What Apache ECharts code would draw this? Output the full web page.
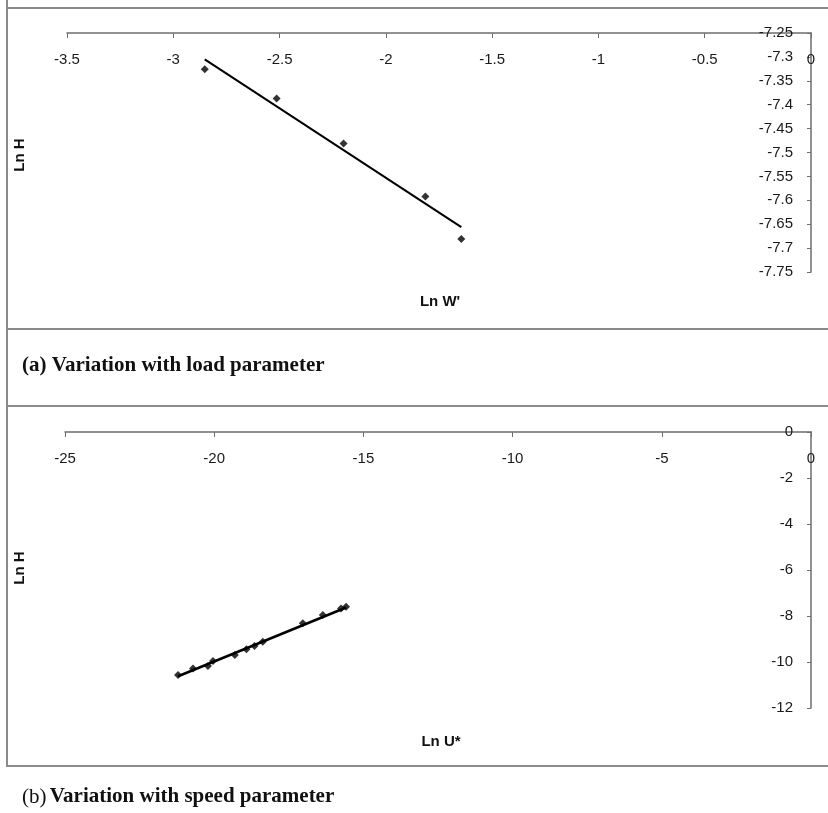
<!DOCTYPE html>
<html>
<head>
<meta charset="utf-8">
<script src="https://cdn.jsdelivr.net/npm/echarts@6/dist/echarts.min.js"></script>
<style>
  html, body { margin: 0; padding: 0; background: #fff; }
  #main { width: 828px; height: 813px; }
</style>
</head>
<body>
<div id="main"></div>
<script>
// (a) load parameter
var loadX = [-2.852, -2.514, -2.199, -1.814, -1.645];
var loadY = [-7.326, -7.387, -7.481, -7.592, -7.681];
var loadTrendX = [-2.852, -1.645];
var loadTrendY = [-7.305, -7.656];

// (b) speed parameter
var speedX = [-21.21, -20.71, -20.21, -20.04, -19.31, -18.92, -18.65, -18.37, -17.03, -16.36, -15.75, -15.58];
var speedY = [-10.57, -10.28, -10.17, -9.96, -9.70, -9.45, -9.30, -9.12, -8.32, -7.96, -7.67, -7.60];
var speedTrendX = [-21.21, -15.58];
var speedTrendY = [-10.62, -7.63];

function pairs(xs, ys) {
  return xs.map(function (x, i) { return [x, ys[i]]; });
}

var chart = echarts.init(document.getElementById('main'));

var axisColor = '#6e6e6e';
var labelStyle = { color: '#1a1a1a', fontFamily: 'Liberation Sans, Arial', fontSize: 15 };

function xAxisOf(grid, min, max, interval) {
  return {
    type: 'value',
    gridIndex: grid,
    position: 'top',
    min: min, max: max, interval: interval,
    axisLine: { show: true, onZero: false, lineStyle: { color: axisColor, width: 1.5 } },
    axisTick: { show: true, inside: true, length: 5, lineStyle: { color: axisColor } },
    axisLabel: Object.assign({ inside: true, margin: 19 }, labelStyle),
    splitLine: { show: false }
  };
}
function yAxisOf(grid, min, max, interval) {
  return {
    type: 'value',
    gridIndex: grid,
    position: 'right',
    min: min, max: max, interval: interval,
    axisLine: { show: true, onZero: false, lineStyle: { color: axisColor, width: 1.5 } },
    axisTick: { show: true, inside: true, length: 4, lineStyle: { color: axisColor } },
    axisLabel: Object.assign({ inside: true, margin: 18 }, labelStyle),
    splitLine: { show: false }
  };
}

var frame = { stroke: '#8a8a8a', lineWidth: 2 };
var nameFont = 'bold 15px "Liberation Sans", Arial';
var capFont = 'bold 21px "Liberation Serif", "Times New Roman"';

var option = {
  animation: false,
  backgroundColor: '#fff',
  grid: [
    { left: 67, right: 17, top: 33, height: 239 },
    { left: 65, right: 17, top: 432, height: 276 }
  ],
  xAxis: [
    xAxisOf(0, -3.5, 0, 0.5),
    xAxisOf(1, -25, 0, 5)
  ],
  yAxis: [
    yAxisOf(0, -7.75, -7.25, 0.05),
    yAxisOf(1, -12, 0, 2)
  ],
  series: [
    {
      type: 'line', xAxisIndex: 0, yAxisIndex: 0,
      data: pairs(loadTrendX, loadTrendY),
      showSymbol: false, lineStyle: { color: '#000', width: 2 }
    },
    {
      type: 'scatter', xAxisIndex: 0, yAxisIndex: 0,
      data: pairs(loadX, loadY),
      symbol: 'diamond', symbolSize: 8, itemStyle: { color: '#000' }
    },
    {
      type: 'line', xAxisIndex: 1, yAxisIndex: 1,
      data: pairs(speedTrendX, speedTrendY),
      showSymbol: false, lineStyle: { color: '#000', width: 2.5 }
    },
    {
      type: 'scatter', xAxisIndex: 1, yAxisIndex: 1,
      data: pairs(speedX, speedY),
      symbol: 'diamond', symbolSize: 8, itemStyle: { color: '#000' }
    }
  ],
  graphic: [
    // frames
    { type: 'line', shape: { x1: 7, y1: 0, x2: 7, y2: 767 }, style: frame },
    { type: 'line', shape: { x1: 7, y1: 8, x2: 828, y2: 8 }, style: frame },
    { type: 'line', shape: { x1: 7, y1: 329, x2: 828, y2: 329 }, style: frame },
    { type: 'line', shape: { x1: 7, y1: 406, x2: 828, y2: 406 }, style: frame },
    { type: 'line', shape: { x1: 7, y1: 766, x2: 828, y2: 766 }, style: frame },
    // axis names
    { type: 'text', x: 20, y: 155, rotation: Math.PI / 2,
      style: { text: 'Ln H', font: nameFont, fill: '#111', align: 'center', verticalAlign: 'middle' } },
    { type: 'text', x: 440, y: 302,
      style: { text: "Ln W'", font: nameFont, fill: '#111', align: 'center', verticalAlign: 'middle' } },
    { type: 'text', x: 20, y: 568, rotation: Math.PI / 2,
      style: { text: 'Ln H', font: nameFont, fill: '#111', align: 'center', verticalAlign: 'middle' } },
    { type: 'text', x: 441, y: 742,
      style: { text: 'Ln U*', font: nameFont, fill: '#111', align: 'center', verticalAlign: 'middle' } },
    // captions
    { type: 'text', x: 22, y: 366,
      style: { text: '(a) Variation with load parameter', font: capFont, fill: '#111', verticalAlign: 'middle' } },
    { type: 'text', x: 22, y: 797,
      style: {
        text: '{n|(b)} {b|Variation with speed parameter}',
        verticalAlign: 'middle', fill: '#111',
        rich: {
          n: { fontFamily: 'Liberation Serif', fontSize: 21, fontWeight: 'normal', fill: '#111' },
          b: { fontFamily: 'Liberation Serif', fontSize: 21, fontWeight: 'bold', fill: '#111' }
        }
      } }
  ]
};

chart.setOption(option);
</script>
</body>
</html>
